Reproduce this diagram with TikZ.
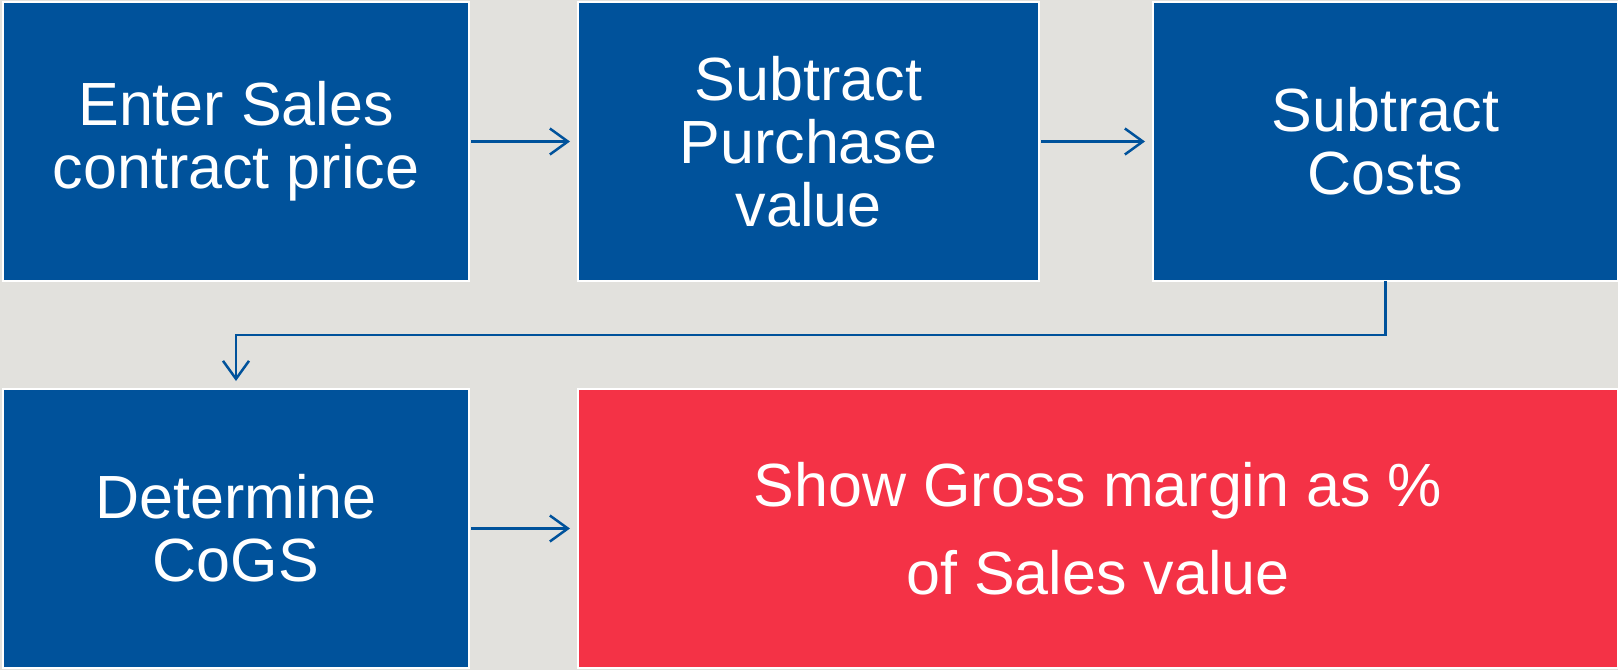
\documentclass[tikz,border=0pt]{standalone}
\usepackage{fontspec}
\setmainfont{Liberation Sans}
\usetikzlibrary{arrows.meta}
\definecolor{bgc}{HTML}{E2E1DD}
\definecolor{bluec}{HTML}{00529B}
\definecolor{redc}{HTML}{F43246}
\tikzset{
  box/.style={fill=bluec, draw=white, line width=2pt, inner sep=0pt, outer sep=0pt,
    minimum height=279pt, text=white, align=center,
    font=\fontsize{61}{63}\selectfont},
  redbox/.style={box, fill=redc, font=\fontsize{61}{88}\selectfont},
  arr/.style={draw=bluec, line width=2.5pt, -{Straight Barb[length=18pt,width=26pt,line width=2.5pt]}}
}
\begin{document}
\begin{tikzpicture}[x=1pt,y=-1pt]
\useasboundingbox (0,0) rectangle (1618,670);
\fill[bgc] (0,0) rectangle (1618,670);
\node[box, minimum width=466pt] (b1) at (236,141.5) {Enter Sales\\contract price};
\node[box, minimum width=461pt] (b2) at (808.5,141.5) {Subtract\\Purchase\\value};
\node[box, minimum width=465pt] (b3) at (1385.5,141.5) {Subtract\\Costs};
\node[box, minimum width=466pt] (b4) at (236,528.5) {Determine\\CoGS};
\node[redbox, minimum width=1040pt] (b5) at (1098,528.5) {Show Gross margin as \%\\of Sales value};
\draw[arr, shorten <=2pt, shorten >=8pt] (b1.east) -- (b2.west);
\draw[arr, shorten <=2pt, shorten >=8pt] (b2.east) -- (b3.west);
\draw[arr, shorten <=0pt, shorten >=8pt] (b3.south) -- ++(0,54) -| (b4.north);
\draw[arr, shorten <=2pt, shorten >=8pt] (b4.east) -- (b5.west);
\end{tikzpicture}
\end{document}
